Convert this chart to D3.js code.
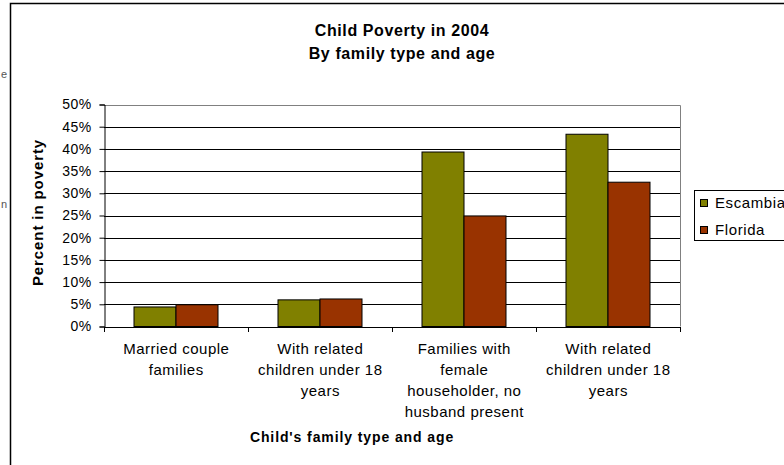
<!DOCTYPE html>
<html>
<head>
<meta charset="utf-8">
<script src="https://cdn.jsdelivr.net/npm/d3@7"></script>
<style>
  html, body { margin: 0; padding: 0; background: #fff; }
  svg { display: block; font-family: "Liberation Sans", Arial, sans-serif; }
</style>
</head>
<body>
<svg id="chart" width="784" height="465"></svg>
<script>
const categories = [
  ["Married couple", "families"],
  ["With related", "children under 18", "years"],
  ["Families with", "female", "householder, no", "husband present"],
  ["With related", "children under 18", "years"]
];
const seriesNames = ["Escambia", "Florida"];
const escambia = [4.4, 6.0, 39.3, 43.3];
const florida = [4.9, 6.2, 24.9, 32.5];
const yTicks = [0, 5, 10, 15, 20, 25, 30, 35, 40, 45, 50];
const colors = ["#808000", "#993300"];

const svg = d3.select("#chart");
const plot = { left: 104, top: 104.5, right: 680, bottom: 326.5 };
const FONT = "Liberation Sans, Arial, sans-serif";

// outer chart frame
svg.append("path")
  .attr("d", "M10.5,465 L10.5,3.5 L784,3.5")
  .attr("fill", "none").attr("stroke", "#000").attr("stroke-width", 1.5);

// cut-off text fragments at left edge
svg.append("text").attr("x", 7).attr("y", 78).attr("text-anchor", "end")
  .attr("font-size", 11).attr("fill", "#555").text("e");
svg.append("text").attr("x", 7).attr("y", 208).attr("text-anchor", "end")
  .attr("font-size", 11).attr("fill", "#555").text("n");

const x0 = d3.scaleBand().domain(d3.range(categories.length))
  .range([plot.left, plot.right]).padding(0);
const x1 = d3.scaleBand().domain(d3.range(seriesNames.length))
  .range([0, x0.bandwidth()]).paddingInner(0).paddingOuter(30 / 42);
const y = d3.scaleLinear().domain([0, 50]).range([plot.bottom, plot.top]);

// gridlines
svg.append("g").selectAll("line").data(yTicks.filter(d => d > 0 && d < 50)).join("line")
  .attr("x1", plot.left).attr("x2", plot.right)
  .attr("y1", d => Math.round(y(d)) + 0.5).attr("y2", d => Math.round(y(d)) + 0.5)
  .attr("stroke", "#000").attr("stroke-width", 1);

// plot border top & right (gray)
svg.append("path")
  .attr("d", `M${plot.left},${Math.round(plot.top)+0.5} L${plot.right+0.5},${Math.round(plot.top)+0.5} L${plot.right+0.5},${plot.bottom}`)
  .attr("fill", "none").attr("stroke", "#808080").attr("stroke-width", 1);

// bars
const data = categories.map((c, i) => [escambia[i], florida[i]]);
const groups = svg.append("g").selectAll("g").data(data).join("g")
  .attr("transform", (d, i) => `translate(${x0(i)},0)`);
groups.selectAll("rect").data(d => d.map((v, j) => ({ v, j }))).join("rect")
  .attr("x", d => x1(d.j))
  .attr("y", d => y(d.v))
  .attr("width", x1.bandwidth())
  .attr("height", d => y(0) - y(d.v))
  .attr("fill", d => colors[d.j])
  .attr("stroke", "#000").attr("stroke-width", 1);

// y axis
const yAxis = d3.axisLeft(y).tickValues(yTicks).tickFormat(d => d + "%").tickSize(5).tickPadding(8);
const gy = svg.append("g").attr("transform", `translate(${plot.left + 0.5},0)`).call(yAxis);
gy.select(".domain").attr("stroke", "#000");
gy.selectAll(".tick line").attr("stroke", "#000");
gy.selectAll(".tick text").attr("font-size", 14).attr("fill", "#000")
  .attr("letter-spacing", 0.4).attr("font-family", FONT);

// x axis
const xTickScale = d3.scaleLinear().domain([0, categories.length]).range([plot.left, plot.right]);
const gx = svg.append("g").attr("transform", `translate(0,${plot.bottom + 0.5})`)
  .call(d3.axisBottom(xTickScale).tickValues(d3.range(categories.length + 1)).tickFormat("").tickSize(5));
gx.select(".domain").attr("stroke", "#000");
gx.selectAll(".tick line").attr("stroke", "#000");

// category labels
const lab = svg.append("g").selectAll("text").data(categories).join("text")
  .attr("text-anchor", "middle").attr("font-size", 15).attr("letter-spacing", 0.5).attr("fill", "#000")
  .attr("x", (d, i) => x0(i) + x0.bandwidth() / 2);
lab.selectAll("tspan").data(d => d).join("tspan")
  .attr("x", function() { return +d3.select(this.parentNode).attr("x") + 0.3; })
  .attr("y", (d, k) => 354 + k * 21)
  .text(d => d);

// titles
svg.append("text").attr("x", 402).attr("y", 36).attr("text-anchor", "middle")
  .attr("font-size", 16).attr("font-weight", "bold").attr("letter-spacing", 0.6).text("Child Poverty in 2004");
svg.append("text").attr("x", 402).attr("y", 59).attr("text-anchor", "middle")
  .attr("font-size", 16).attr("font-weight", "bold").attr("letter-spacing", 0.6).text("By family type and age");

// axis titles
svg.append("text").attr("x", 352).attr("y", 442).attr("text-anchor", "middle")
  .attr("font-size", 14).attr("font-weight", "bold").attr("letter-spacing", 0.9).text("Child's family type and age");
svg.append("text").attr("transform", `translate(43,${(plot.top + plot.bottom) / 2 - 3}) rotate(-90)`)
  .attr("text-anchor", "middle").attr("font-size", 15).attr("font-weight", "bold").attr("letter-spacing", 0.9)
  .text("Percent in poverty");

// legend
const lg = svg.append("g");
lg.append("rect").attr("x", 694.5).attr("y", 190.5).attr("width", 120).attr("height", 50)
  .attr("fill", "#fff").attr("stroke", "#000").attr("stroke-width", 1);
const li = lg.selectAll("g").data(seriesNames).join("g")
  .attr("transform", (d, i) => `translate(0,${203 + i * 27})`);
li.append("rect").attr("x", 700.5).attr("y", -3.5).attr("width", 7).attr("height", 7)
  .attr("fill", (d, i) => colors[i]).attr("stroke", "#000").attr("stroke-width", 1);
li.append("text").attr("x", 715).attr("y", 5).attr("font-size", 15).attr("letter-spacing", 0.6).text(d => d);
</script>
</body>
</html>
